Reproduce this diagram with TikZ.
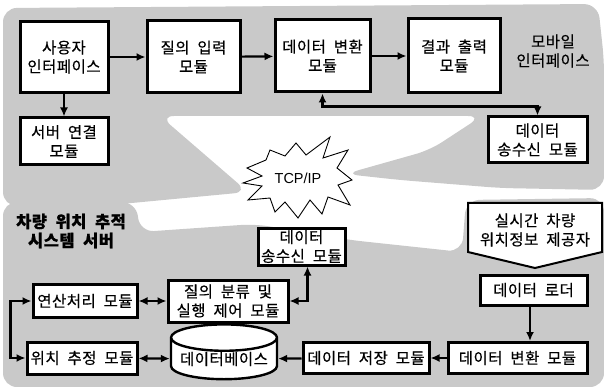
\documentclass[tikz,border=0pt]{standalone}
\usepackage{fontspec}
\setmainfont{Noto Sans CJK KR}[LetterSpace=3,WordSpace=2,FakeBold=0.4]
\newfontfamily\latinf{Liberation Sans}
\usetikzlibrary{shapes.symbols,shapes.geometric,arrows.meta,calc}
\begin{document}
\begin{tikzpicture}[x=1pt,y=-1pt,
  box/.style={draw, line width=3pt, fill=white, align=center, inner sep=0pt,
    font=\fontsize{15.5pt}{19pt}\selectfont},
  lbl/.style={align=center, inner sep=0pt, font=\fontsize{15.5pt}{19pt}\selectfont},
  arr/.style={line width=2.2pt, -{Latex[length=9pt,width=8pt]}},
  darr/.style={line width=2.2pt, {Latex[length=9pt,width=8pt]}-{Latex[length=9pt,width=8pt]}},
  grayreg/.style={fill=black!21, draw=none, rounded corners=14pt}]
\useasboundingbox (0,0) rectangle (604,387);
% background regions
\fill[grayreg] (3,8) -- (598,4) -- (604,60) -- (604,190) -- (500,188) -- (400,180)
  -- (345,174) -- (430,150) -- (482,116) -- (160,116) -- (248,192) -- (100,206)
  -- (3,206) -- cycle;
\fill[grayreg] (3,202) -- (136,202) -- (140,232) -- (255,224) -- (350,240)
  -- (462,252) -- (466,200) -- (604,198) -- (604,387) -- (3,387) -- cycle;
% top nodes
\node[box, minimum width=88pt, minimum height=71pt] (ui) at (64,57) {사용자\\인터페이스};
\node[box, minimum width=93pt, minimum height=72pt] (qin) at (193.5,57) {질의 입력\\모듈};
\node[box, minimum width=95pt, minimum height=72pt] (conv) at (322.5,56) {데이터 변환\\모듈};
\node[box, minimum width=92pt, minimum height=74pt] (out) at (454,56) {결과 출력\\모듈};
\node[box, minimum width=88pt, minimum height=47pt] (srv) at (64,141.5) {서버 연결\\모듈};
\node[box, minimum width=99pt, minimum height=46pt] (trx) at (537.5,140) {데이터\\송수신 모듈};
\node[lbl] (mob) at (553,51) {모바일\\인터페이스};
\draw[arr] (ui) -- (qin);
\draw[arr] (qin) -- (conv);
\draw[arr] (conv) -- (out);
\draw[arr] (ui) -- (srv);
\draw[darr] (conv.south) -- ++(0,13) -| (trx.north);
% TCP/IP burst
\node[inner sep=0pt, font=\latinf\fontsize{14.5pt}{16pt}\selectfont] (tcp) at (298,178) {TCP/IP};
\draw[line width=0.9pt, fill=white, line join=miter]
  ($(tcp)+(-51,-10)$) -- ($(tcp)+(-32,-18)$) -- ($(tcp)+(-28,-28)$) -- ($(tcp)+(-13,-22)$)
  -- ($(tcp)+(-2,-35)$) -- ($(tcp)+(8,-23)$) -- ($(tcp)+(32,-41)$) -- ($(tcp)+(25,-20)$)
  -- ($(tcp)+(50,-28)$) -- ($(tcp)+(39,-10)$) -- ($(tcp)+(54,2)$) -- ($(tcp)+(40,7)$)
  -- ($(tcp)+(52,27)$) -- ($(tcp)+(30,19)$) -- ($(tcp)+(24,36)$) -- ($(tcp)+(12,22)$)
  -- ($(tcp)+(0,40)$) -- ($(tcp)+(-13,24)$) -- ($(tcp)+(-23,34)$) -- ($(tcp)+(-28,20)$)
  -- ($(tcp)+(-50,22)$) -- ($(tcp)+(-36,8)$) -- ($(tcp)+(-55,5)$) -- ($(tcp)+(-36,-2)$)
  -- cycle;
\node[inner sep=0pt, font=\latinf\fontsize{14.5pt}{16pt}\selectfont] at (tcp) {TCP/IP};
% bottom nodes
\node[lbl, font=\bfseries\fontsize{16.5pt}{19pt}\selectfont] (sys) at (71,231) {차량 위치 추적\\시스템 서버};
\node[box, minimum width=87pt, minimum height=37pt] (trx2) at (301.5,246.5) {데이터\\송수신 모듈};
\node[box, minimum width=104pt, minimum height=33pt] (calc) at (85,301) {연산처리 모듈};
\node[box, minimum width=120pt, minimum height=42pt] (qc) at (228,301) {질의 분류 및\\실행 제어 모듈};
\node[box, minimum width=110pt, minimum height=32pt] (pos) at (82,358) {위치 추정 모듈};
\node[cylinder, shape border rotate=90, aspect=0.3, draw, line width=2.4pt, fill=white,
  minimum width=106pt, minimum height=50pt, inner sep=0pt,
  font=\fontsize{15.5pt}{19pt}\selectfont] (db) at (224,359) {데이터베이스};
\node[box, minimum width=126pt, minimum height=31pt] (store) at (366,358) {데이터 저장 모듈};
\node[box, minimum width=139pt, minimum height=31pt] (conv2) at (517.5,358) {데이터 변환 모듈};
\node[box, minimum width=107pt, minimum height=30pt] (loader) at (533.5,290) {데이터 로더};
\node[lbl] (prov) at (535,230) {실시간 차량\\위치정보 제공자};
\draw[line width=2pt, fill=white] ($(prov)+(-67,-27)$) -- ($(prov)+(67,-27)$)
  -- ($(prov)+(67,22)$) -- ($(prov)+(0,38)$) -- ($(prov)+(-67,22)$) -- cycle;
\node[lbl] at (prov) {실시간 차량\\위치정보 제공자};
\draw[darr] (calc) -- (qc);
\draw[darr] (qc.east) -| ([xshift=6pt]trx2.south);
\draw[darr] (calc.west) -- ++(-21,0) |- (pos.west);
\draw[darr] (pos) -- (db);
\draw[arr] (store) -- (db);
\draw[arr] (conv2) -- (store);
\draw[arr] (loader.south -| 530,0) -- (530,0 |- conv2.north);
\end{tikzpicture}
\end{document}
